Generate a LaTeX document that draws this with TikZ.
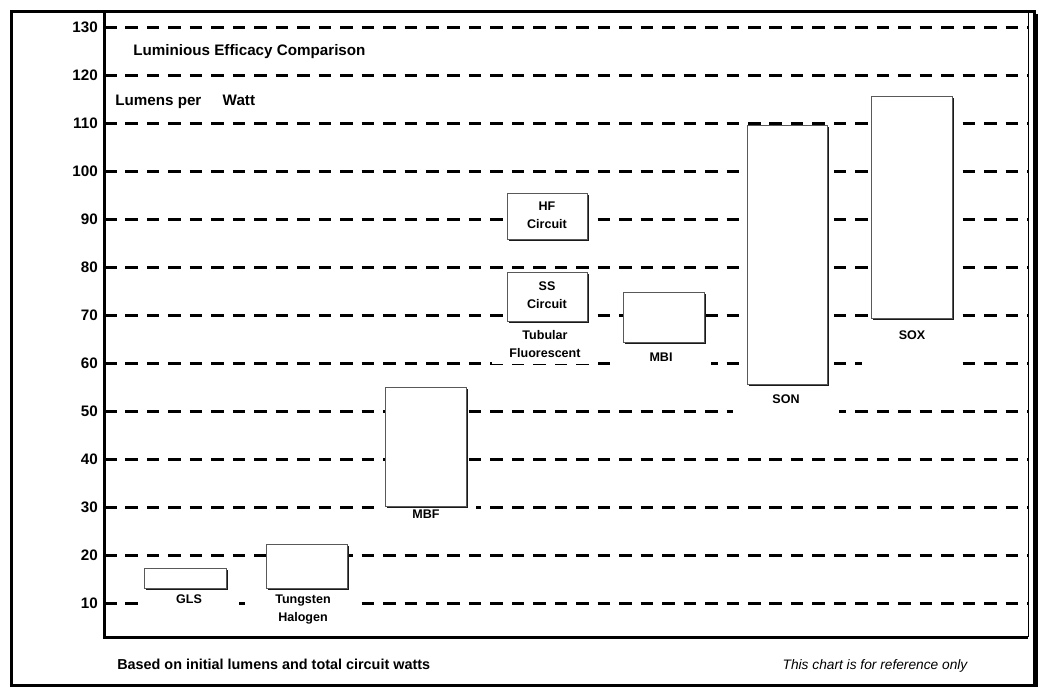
\documentclass[tikz,border=0pt]{standalone}
\usepackage{fontspec}
\setmainfont{Liberation Sans}
\usetikzlibrary{positioning, fit, shadows}

\newcommand{\lblfont}{\fontsize{9.4}{13.6}\selectfont\bfseries}
\newcommand{\bigfont}{\fontsize{11.4}{13.6}\selectfont\bfseries}

\begin{document}
\begin{tikzpicture}[
    x=0.75pt, y=-0.75pt,
    frame/.style={
        line width=2.25pt,
        black
    },
    gridline/.style={
        line width=2.25pt,
        dash pattern=on 9.4pt off 6.7pt
    },
    bar/.style={
        rectangle,
        draw=black!65,
        line width=0.6pt,
        fill=white,
        inner sep=0pt,
        drop shadow={shadow xshift=1.2pt, shadow yshift=-1.2pt, fill=black!90, opacity=1}
    },
    lbl/.style={
        fill=white,
        anchor=north,
        align=center,
        inner xsep=0pt,
        inner ysep=5pt,
        minimum width=75pt,
        font=\lblfont
    },
    intxt/.style={
        anchor=north,
        align=center,
        inner sep=0pt,
        font=\lblfont
    },
    axislbl/.style={
        anchor=base east,
        inner sep=0pt,
        font=\bigfont
    }
]
\useasboundingbox (0,0) rectangle (1042,687);

% value lines and scale
\foreach \v in {10,20,...,130} {
    \draw[gridline] (104,{27+(130-\v)*4.8}) -- (1028,{27+(130-\v)*4.8});
    \node[axislbl] (y\v) at (98,{32.4+(130-\v)*4.8}) {\v};
}

% lamp names
\node[lbl] (glslbl) at (189,588) {GLS};
\node[lbl, minimum width=81pt] (thlbl) at (303,588) {Tungsten\\Halogen};
\node[lbl] (mbflbl) at (426,503) {MBF};
\node[lbl, minimum width=79pt] (tflbl) at (545,323) {Tubular\\Fluorescent};
\node[lbl] (mbilbl) at (661,346) {MBI};
\node[lbl, minimum width=80pt, text depth=3pt] (sonlbl) at (786,388) {SON};
\node[lbl, text depth=15pt] (soxlbl) at (912,324) {SOX};

% efficacy ranges
\node[bar, fit={(144,568) (226,588)}] (gls) {};
\node[bar, fit={(266,544) (347,588)}] (th) {};
\node[bar, fit={(385,387) (466,506)}] (mbf) {};
\node[bar, fit={(507,193) (587,239)}] (hf) {};
\node[bar, fit={(507,272) (587,321)}] (ss) {};
\node[bar, fit={(623,292) (704,342)}] (mbi) {};
\node[bar, fit={(747,125) (827,384)}] (son) {};
\node[bar, fit={(871,96) (952,318)}] (sox) {};

\node[intxt] (hftxt) at (547,201.5) {HF\\Circuit};
\node[intxt] (sstxt) at (547,281.5) {SS\\Circuit};

% frames
\draw[frame] (11,11.5) rectangle (1034.5,685.5);
\draw[line width=1.5pt] (1037,14) -- (1037,687);
\draw[frame] (104.5,11.5) -- (104.5,637) -- (1028,637);
\draw[line width=0.75pt] (1028,11.5) -- (1028,637);

% texts
\node[anchor=base west, inner sep=0pt, font=\bigfont] (title) at (133,55) {Luminious Efficacy Comparison};
\node[anchor=base west, inner sep=0pt, font=\bigfont] (unit) at (115,105) {Lumens per\hspace{16pt}Watt};
\node[anchor=base west, inner sep=0pt, font=\fontsize{10.8}{13}\selectfont\bfseries] (note) at (117,669) {Based on initial lumens and total circuit watts};
\node[anchor=base, inner sep=0pt, font=\fontsize{10.3}{12}\selectfont\itshape] (disc) at (875,669) {This chart is for reference only};

\end{tikzpicture}
\end{document}
